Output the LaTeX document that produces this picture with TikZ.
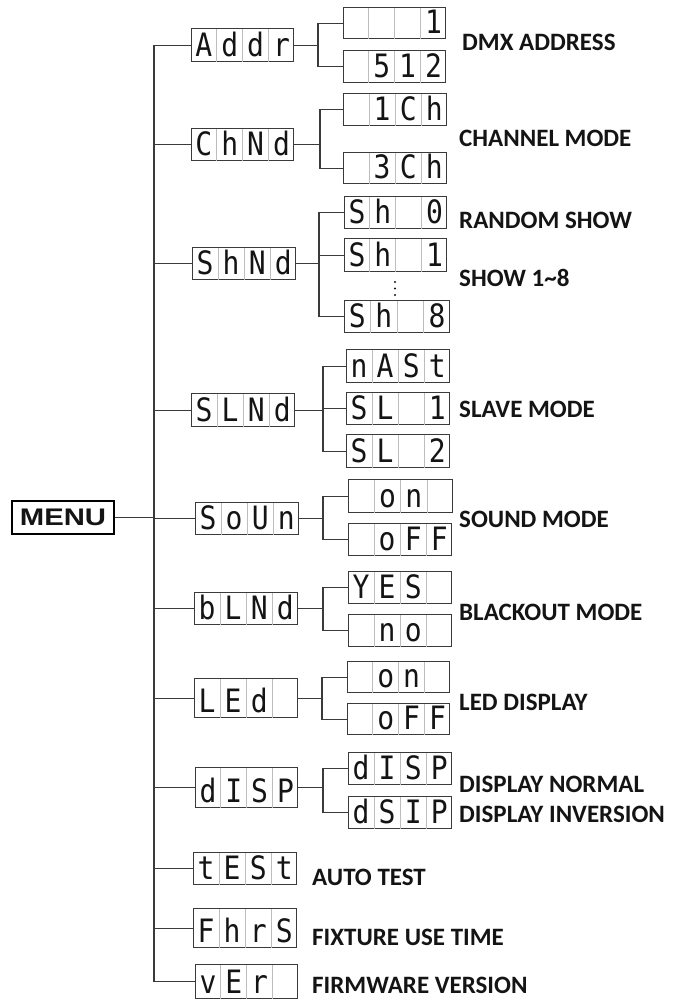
\documentclass[tikz,border=0pt]{standalone}
\usepackage{fontspec}
\usetikzlibrary{calc}
\newfontfamily\lcdfont{DejaVu Sans Mono}
\newfontfamily\lblfont{Carlito}
\newfontfamily\menufont{Liberation Sans}
\definecolor{framec}{HTML}{3A3A3A}
\definecolor{divc}{HTML}{BDBDBD}
\definecolor{ink}{HTML}{141414}
\tikzset{
  lcdbox/.style={draw=framec, line width=1.4pt, inner sep=0pt, anchor=north west},
  divline/.style={draw=divc, line width=0.9pt},
  conn/.style={draw=framec, line width=1.3pt},
  lcdch/.style={inner sep=0pt, anchor=base, text=ink, font=\lcdfont\fontsize{28}{28}\selectfont},
  lbl/.style={inner sep=0pt, anchor=base west, text=ink, font=\lblfont\bfseries\fontsize{25}{25}\selectfont},
  menubox/.style={draw=black, line width=1.5pt, inner sep=0pt, minimum width=102pt, minimum height=33pt, text=ink, font=\menufont\bfseries\fontsize{24}{24}\selectfont},
}
\newcommand\lcdch[1]{\scalebox{1}[1.15]{#1}}
\newcommand\lcd[9]{%
  \node[lcdbox, minimum width={(#4-#2)*1pt}, minimum height={(#5-#3)*1pt}] (#1) at (#2,#3) {};
  \foreach \k in {1,2,3}
    \draw[divline] ($(#1.north west)!\k/4!(#1.north east)+(0,0.8)$) -- ($(#1.south west)!\k/4!(#1.south east)+(0,-0.8)$);
  \node[lcdch] at ($(#1.south west)!0.125!(#1.south east)+(0,-5.5)$) {\lcdch{#6}};
  \node[lcdch] at ($(#1.south west)!0.375!(#1.south east)+(0,-5.5)$) {\lcdch{#7}};
  \node[lcdch] at ($(#1.south west)!0.625!(#1.south east)+(0,-5.5)$) {\lcdch{#8}};
  \node[lcdch] at ($(#1.south west)!0.875!(#1.south east)+(0,-5.5)$) {\lcdch{#9}};
}
\begin{document}
\begin{tikzpicture}[x=1pt,y=-1pt]
\useasboundingbox (0,0) rectangle (679,1000);
% menu
\node[menubox] (menu) at (63,517.5) {\scalebox{1.22}[1]{MENU}};
% main displays
\lcd{addr}{191}{28}{293}{61}{A}{d}{d}{r}
\lcd{chnd}{191}{128}{293}{160}{C}{h}{N}{d}
\lcd{shnd}{192}{247}{295}{279}{S}{h}{N}{d}
\lcd{slnd}{191}{393}{294}{426}{S}{L}{N}{d}
\lcd{soun}{195}{502}{298}{534}{S}{o}{U}{n}
\lcd{blnd}{194}{592}{297}{624}{b}{L}{N}{d}
\lcd{led}{194}{678}{297}{717}{L}{E}{d}{}
\lcd{disp}{195}{767}{297}{807}{d}{I}{S}{P}
\lcd{test}{193}{852}{296}{884}{t}{E}{S}{t}
\lcd{fhrs}{193}{908}{296}{947}{F}{h}{r}{S}
\lcd{ver}{195}{964}{297}{998}{v}{E}{r}{}
% sub displays
\lcd{aa}{343}{7}{445}{38}{}{}{}{1}
\lcd{ab}{343}{50}{445}{82}{}{5}{1}{2}
\lcd{ca}{343}{93}{446}{125}{}{1}{C}{h}
\lcd{cb}{343}{152}{446}{183}{}{3}{C}{h}
\lcd{sa}{344}{196}{446}{228}{S}{h}{}{0}
\lcd{sb}{344}{238}{446}{271}{S}{h}{}{1}
\lcd{sc}{344}{300}{449}{332}{S}{h}{}{8}
\lcd{ma}{346}{349}{449}{382}{n}{A}{S}{t}
\lcd{mb}{346}{392}{449}{424}{S}{L}{}{1}
\lcd{mc}{346}{434}{449}{467}{S}{L}{}{2}
\lcd{oa}{348}{479}{452}{512}{}{o}{n}{}
\lcd{ob}{348}{523}{451}{555}{}{o}{F}{F}
\lcd{ba}{348}{571}{451}{603}{Y}{E}{S}{}
\lcd{bb}{348}{614}{451}{646}{}{n}{o}{}
\lcd{la}{347}{661}{449}{692}{}{o}{n}{}
\lcd{lb}{347}{703}{449}{734}{}{o}{F}{F}
\lcd{da}{348}{752}{451}{784}{d}{I}{S}{P}
\lcd{db}{348}{796}{451}{828}{d}{S}{I}{P}
% trunk
\coordinate (trunk) at (154,0);
\draw[conn] (addr.west) -| (trunk |- ver.west) -- (ver.west);
\draw[conn] (menu.east) -- (trunk |- menu.east);
\foreach \n in {chnd,shnd,slnd,soun,blnd,led,disp,test,fhrs}
  \draw[conn] (trunk |- \n.west) -- (\n.west);
% branches
\coordinate (bra) at (318,0);
\draw[conn] (addr.east) -- (bra |- addr.east);
\draw[conn] (aa.west) -| (bra |- ab.west) -- (ab.west);
\coordinate (brc) at (320,0);
\draw[conn] (chnd.east) -- (brc |- chnd.east);
\draw[conn] (ca.west) -| (brc |- cb.west) -- (cb.west);
\coordinate (brs) at (319,0);
\draw[conn] (shnd.east) -- (brs |- shnd.east);
\draw[conn] (sa.west) -| (brs |- sc.west) -- (sc.west);
\draw[conn] (brs |- sb.west) -- (sb.west);
\coordinate (brm) at (323,0);
\draw[conn] (slnd.east) -- (brm |- slnd.east);
\draw[conn] (ma.west) -| (brm |- mc.west) -- (mc.west);
\draw[conn] (brm |- mb.west) -- (mb.west);
\coordinate (bro) at (323,0);
\draw[conn] (soun.east) -- (bro |- soun.east);
\draw[conn] (oa.west) -| (bro |- ob.west) -- (ob.west);
\coordinate (brb) at (323,0);
\draw[conn] (blnd.east) -- (brb |- blnd.east);
\draw[conn] (ba.west) -| (brb |- bb.west) -- (bb.west);
\coordinate (brl) at (322,0);
\draw[conn] (led.east) -- (brl |- led.east);
\draw[conn] (la.west) -| (brl |- lb.west) -- (lb.west);
\coordinate (brd) at (323,0);
\draw[conn] (disp.east) -- (brd |- disp.east);
\draw[conn] (da.west) -| (brd |- db.west) -- (db.west);
% vertical dots
\fill[ink] (395,282) circle (1.2) (395,288.5) circle (1.2) (395,295) circle (1.2);
% labels
\node[lbl] (l1) at (462,51) {DMX ADDRESS};
\node[lbl] (l2) at (459,147) {CHANNEL MODE};
\node[lbl] (l3) at (459,229) {RANDOM SHOW};
\node[lbl] (l4) at (459,286) {SHOW 1\char`\~8};
\node[lbl] (l5) at (459,417) {SLAVE MODE};
\node[lbl] (l6) at (459,527) {SOUND MODE};
\node[lbl] (l7) at (459,620) {BLACKOUT MODE};
\node[lbl] (l8) at (459,710) {LED DISPLAY};
\node[lbl] (l9) at (459,792) {DISPLAY NORMAL};
\node[lbl] (l10) at (459,822) {DISPLAY INVERSION};
\node[lbl] (l11) at (312,885) {AUTO TEST};
\node[lbl] (l12) at (312,945) {FIXTURE USE TIME};
\node[lbl] (l13) at (312,993) {FIRMWARE VERSION};
\end{tikzpicture}
\end{document}
